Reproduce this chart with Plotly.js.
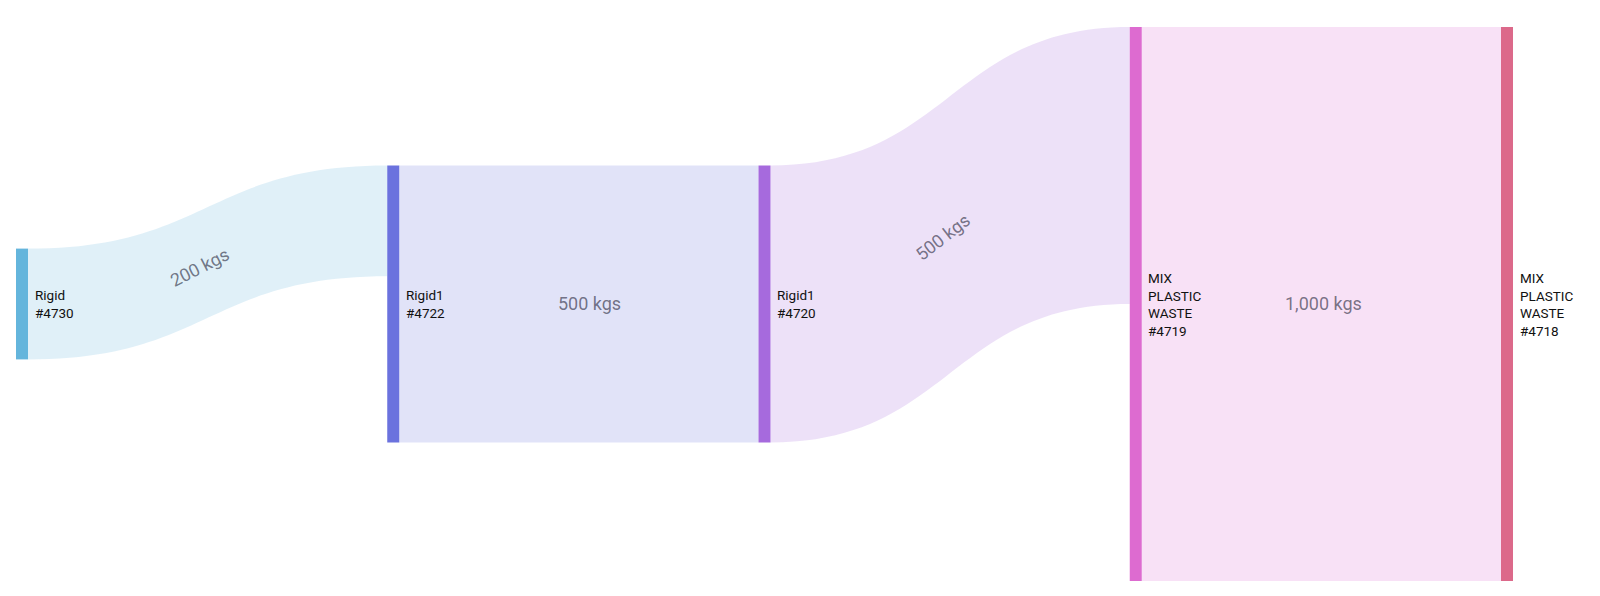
<!DOCTYPE html>
<html>
<head>
<meta charset="utf-8">
<script src="https://cdn.plot.ly/plotly-3.0.1.min.js"></script>
<style>html,body{margin:0;padding:0;background:#fff;}#chart{width:1600px;height:596px;}</style>
</head>
<body>
<div id="chart"></div>
<script>
// ---- data ----
const nodeLabels = ["Rigid<br>#4730", "Rigid1<br>#4722", "Rigid1<br>#4720", "MIX<br>PLASTIC<br>WASTE<br>#4719", "MIX<br>PLASTIC<br>WASTE<br>#4718"];
const nodeColors = ["#64b5dc", "#6b72de", "#a66add", "#dd6bd0", "#dc698a"];
const linkSources = [0, 1, 2, 3];
const linkTargets = [1, 2, 3, 4];
const linkValues = [200, 500, 500, 1000];
const unit = "kgs";

// ---- layout helpers ----
const W = 1600, H = 596;
const margin = {l: 16, r: 87, t: 27, b: 15};
const plotW = W - margin.l - margin.r;
const plotH = H - margin.t - margin.b;
const thick = 12;

function hexToRgba(hex, a) {
  const n = parseInt(hex.slice(1), 16);
  return `rgba(${(n >> 16) & 255},${(n >> 8) & 255},${n & 255},${a})`;
}
const linkColors = linkSources.map(s => hexToRgba(nodeColors[s], 0.2));

const nCols = nodeLabels.length;
const colStep = (plotW - thick) / (nCols - 1);
const nodeX = nodeLabels.map((_, i) => (i * colStep + thick / 2) / plotW);
const nodeY = nodeLabels.map(() => 0.5);

const annotations = [];
// node labels (all placed to the right of the node)
nodeLabels.forEach((lab, i) => {
  annotations.push({
    text: lab, xref: 'paper', yref: 'paper',
    x: (i * colStep + thick + 4.5) / plotW, y: 0.5,
    xanchor: 'left', yanchor: 'middle', align: 'left', showarrow: false,
    font: {family: 'Roboto', size: 13.5, color: '#111'}
  });
});
// link labels
const linkLabelPos = [
  {px: 199, py: 267, angle: -27},
  {px: 589, py: 303, angle: 0},
  {px: 942, py: 237, angle: -38},
  {px: 1323, py: 303, angle: 0}
];
linkValues.forEach((v, i) => {
  const p = linkLabelPos[i];
  annotations.push({
    text: v.toLocaleString('en-US') + ' ' + unit,
    xref: 'paper', yref: 'paper',
    x: (p.px - margin.l) / plotW, y: 1 - (p.py - margin.t) / plotH,
    xanchor: 'center', yanchor: 'middle', showarrow: false, textangle: p.angle,
    font: {family: 'Roboto', size: 18, color: 'rgba(40,40,60,0.62)'}
  });
});

const trace = {
  type: 'sankey',
  arrangement: 'fixed',
  valueformat: ',d',
  valuesuffix: ' ' + unit,
  node: {
    label: nodeLabels.map(() => ''),
    customdata: nodeLabels.map(l => l.replace(/<br>/g, ' ')),
    hovertemplate: '%{customdata}<br>%{value}<extra></extra>',
    color: nodeColors,
    x: nodeX,
    y: nodeY,
    thickness: thick,
    pad: 10,
    line: {width: 0}
  },
  link: {
    source: linkSources,
    target: linkTargets,
    value: linkValues,
    color: linkColors
  },
  textfont: {family: 'Roboto', size: 13, color: '#111'}
};

const layout = {
  width: W, height: H,
  margin: margin,
  paper_bgcolor: '#fff',
  font: {family: 'Roboto'},
  annotations: annotations,
  showlegend: false
};

Plotly.newPlot('chart', [trace], layout, {displayModeBar: false});
</script>
</body>
</html>
